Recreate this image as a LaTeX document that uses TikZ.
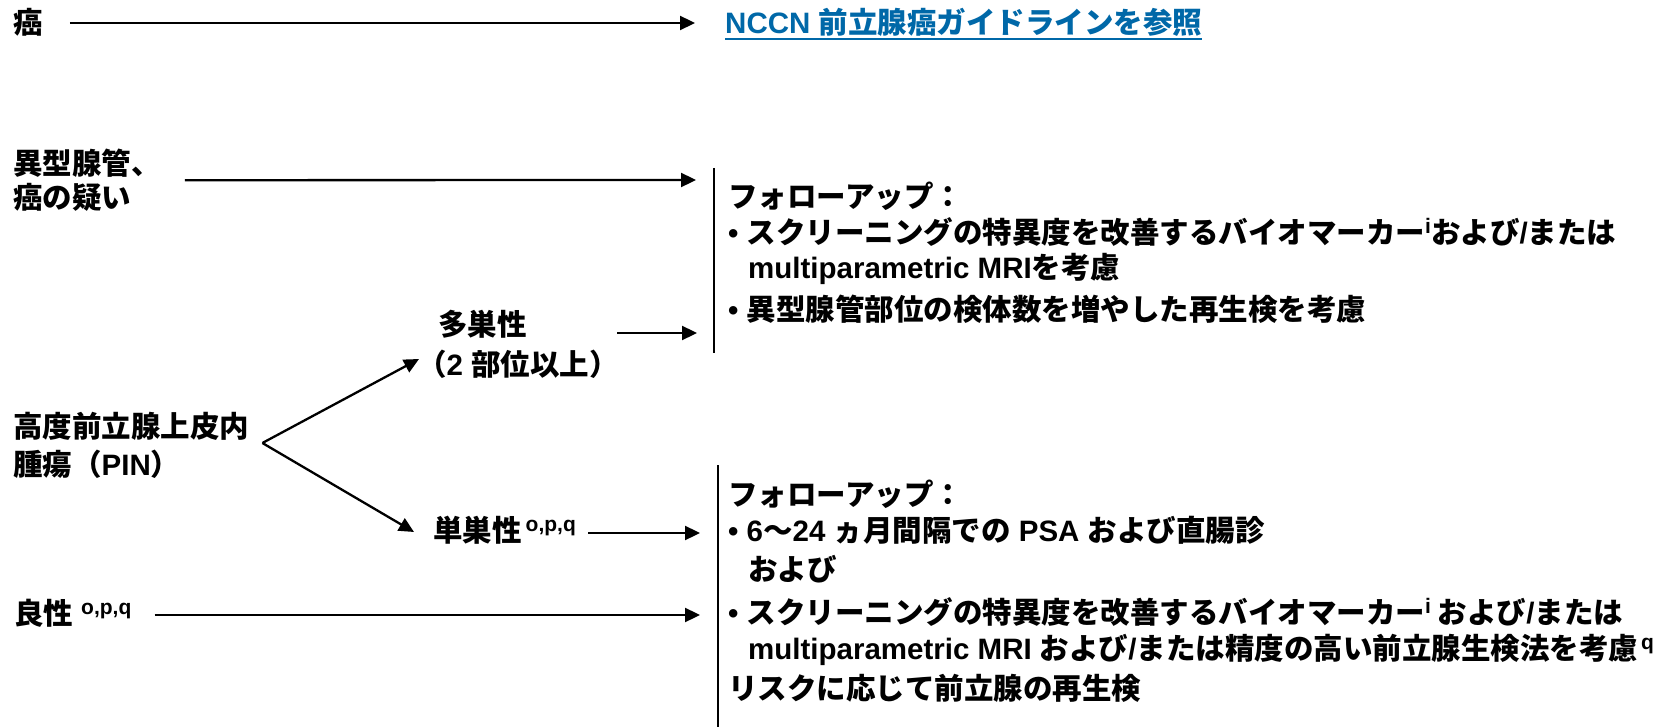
\documentclass[tikz,border=0pt]{standalone}
\usepackage{fontspec}
\setmainfont{Noto Sans CJK JP}
\newfontfamily\latfont{Liberation Sans}
\usetikzlibrary{arrows.meta}
\definecolor{linkblue}{RGB}{0,104,168}
\newcommand\EN[1]{{\latfont\bfseries #1}}
\newcommand\supx[1]{\raisebox{10pt}{\fontsize{21}{21}\selectfont\EN{#1}}}
\newcommand\jpsize{\fontsize{29.5}{35}\selectfont\bfseries}
\begin{document}
\begin{tikzpicture}[x=1pt,y=-1pt,
  lbl/.style={anchor=west, inner sep=0pt, text height=25pt, text depth=4pt, font=\jpsize},
  arr/.style={line width=2.3pt, -{Triangle[length=15pt,width=14pt]}},
  barline/.style={line width=1.7pt}]
\useasboundingbox (0,0) rectangle (1663,727);

% left labels
\node[lbl] (cancer) at (13,23) {癌};
\node[lbl, text=linkblue] (link) at (725,23) {\EN{NCCN }前立腺癌ガイドラインを参照};
\node[lbl] (atyp1) at (13,164) {異型腺管、};
\node[lbl] (atyp2) at (13,198) {癌の疑い};
\node[lbl] (multi1) at (438,325) {多巣性};
\node[lbl] (multi2) at (417,365) {（\EN{2 }部位以上）};
\node[lbl] (pin1) at (13,427) {高度前立腺上皮内};
\node[lbl] (pin2) at (13,465) {腫瘍（\EN{PIN}）};
\node[lbl] (single) at (433,531) {単巣性\hspace{4pt}\supx{o,p,q}};
\node[lbl] (benign) at (14,614) {良性\hspace{8pt}\supx{o,p,q}};

% right block 1
\node[lbl] (r1a) at (728,197) {フォローアップ：};
\node[lbl] (r1b) at (728,233) {\EN{• }スクリーニングの特異度を改善するバイオマーカー\supx{i}および\EN{/}または};
\node[lbl] (r1c) at (748,268) {\EN{multiparametric MRI}を考慮};
\node[lbl] (r1d) at (728,310) {\EN{• }異型腺管部位の検体数を増やした再生検を考慮};

% right block 2
\node[lbl] (r2a) at (728,495) {フォローアップ：};
\node[lbl] (r2b) at (728,531) {\EN{• 6}〜\EN{24 }ヵ月間隔での\EN{ PSA }および直腸診};
\node[lbl] (r2c) at (748,570) {および};
\node[lbl] (r2d) at (728,613) {\EN{• }スクリーニングの特異度を改善するバイオマーカー\supx{i} および\EN{/}または};
\node[lbl] (r2e) at (748,649) {\EN{multiparametric MRI }および\EN{/}または精度の高い前立腺生検法を考慮\hspace{3pt}\supx{q}};
\node[lbl] (r2f) at (728,689) {リスクに応じて前立腺の再生検};

% underline of link
\draw[linkblue, line width=2pt] ([yshift=-1pt]link.south west) -- ([yshift=-1pt]link.south east);

% bars
\coordinate (b1t) at (714,168);
\coordinate (b1b) at (714,353);
\coordinate (b2t) at (718,465);
\coordinate (b2b) at (718,727);
\draw[barline] (b1t) -- (b1b);
\draw[barline] (b2t) -- (b2b);

% arrow end points
\coordinate (tA) at (696,180);
\coordinate (tM) at (697,333);
\coordinate (tS) at (700,533);
\coordinate (tB) at (700,615);
\coordinate (tipM) at (419,359);
\coordinate (tipS) at (414,532);

% connectors
\draw[arr] ([xshift=27pt]cancer.east) -- ([xshift=-30pt]link.west);
\draw[arr] ([xshift=24pt,yshift=-1.5pt]atyp1.south east) -- (tA);
\draw[arr] ([xshift=-2pt,yshift=32pt]multi2.east) -- (tM);
\draw[arr] ([xshift=13pt,yshift=-16pt]pin1.east) -- (tipM);
\draw[arr] ([xshift=13pt,yshift=-16pt]pin1.east) -- (tipS);
\draw[arr] ([xshift=12pt,yshift=-2pt]single.east) -- (tS);
\draw[arr] ([xshift=23pt,yshift=-1pt]benign.east) -- (tB);
\end{tikzpicture}
\end{document}
